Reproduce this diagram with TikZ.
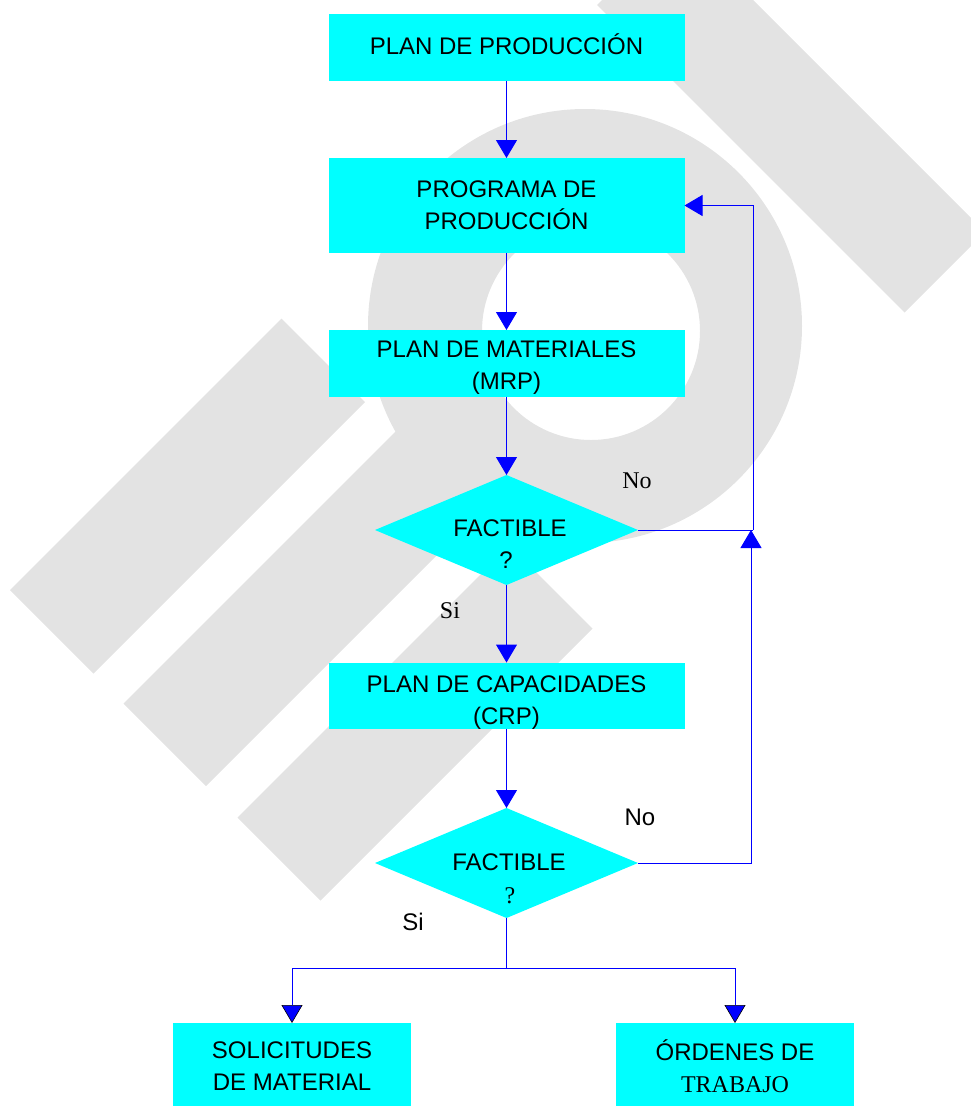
\documentclass[tikz,border=0pt]{standalone}
\usepackage{fontspec}
\setmainfont{Liberation Sans}
\newfontfamily\serifA{Liberation Serif}
\usetikzlibrary{arrows.meta,shapes.geometric}
\definecolor{wm}{RGB}{227,227,227}
\definecolor{boxcyan}{RGB}{0,255,255}
\definecolor{lnblue}{RGB}{0,0,255}
\tikzset{
  wmark/.style={fill=wm},
  box/.style={rectangle, fill=boxcyan, inner sep=0pt, outer sep=0pt, align=center, text=black, font=\fontsize{24}{32}\selectfont},
  dia/.style={diamond, fill=boxcyan, inner sep=0pt, outer sep=0pt, minimum width=263pt, minimum height=110pt},
  txt/.style={inner sep=0pt, outer sep=0pt, anchor=base, text=black, font=\fontsize{24}{32}\selectfont},
  sertxt/.style={txt, font=\serifA\fontsize{24}{32}\selectfont},
  conn/.style={draw=lnblue, line width=1pt},
  arr/.style={conn, -{Triangle[length=18pt,width=21pt]}},
  arrb/.style={conn, -{Triangle[length=18pt,width=21pt,color=black,fill=lnblue,line width=0.6pt]}},
}
\begin{document}
\begin{tikzpicture}[x=1pt,y=-1pt]
\useasboundingbox (0,0) rectangle (971,1106);
% watermark
\begin{scope}
\clip (0,0) rectangle (971,1106);
\fill[wmark, even odd rule] (585,326) circle[radius=217pt] (591,331) circle[radius=109pt];
\fill[wmark] (10,590) -- (93.5,673.5) -- (365,402) -- (281.5,318.5) -- cycle;
\fill[wmark] (123.5,703.5) -- (206,786) -- (520,472) -- (437.5,389.5) -- cycle;
\fill[wmark] (237.5,817.5) -- (320.5,900.5) -- (592.5,628.5) -- (509.5,545.5) -- cycle;
\fill[wmark] (597,5) -- (677.5,-75.5) -- (985,232) -- (904.5,312.5) -- cycle;
\end{scope}
% nodes
\node[box, minimum width=356pt, minimum height=67pt] (b1) at (506.5,47.5) {PLAN DE PRODUCCIÓN\rule[-6pt]{0pt}{6pt}};
\node[box, minimum width=356pt, minimum height=95pt] (b2) at (506.5,205.5) {PROGRAMA DE\\PRODUCCIÓN};
\node[box, minimum width=356pt, minimum height=67pt] (b3) at (506.5,363.5) {\rule{0pt}{25pt}PLAN DE MATERIALES\\(MRP)};
\node[dia] (d1) at (506.5,530) {};
\node[box, minimum width=356pt, minimum height=66pt] (b4) at (506.5,696) {\rule{0pt}{30pt}PLAN DE CAPACIDADES\\(CRP)};
\node[dia] (d2) at (506.5,863) {};
\node[box, minimum width=238pt, minimum height=87pt] (b5) at (292,1066.5) {SOLICITUDES\\DE MATERIAL};
\node[box, minimum width=238pt, minimum height=87pt] (b6) at (735,1066.5) {ÓRDENES DE\\{\serifA TRABAJO}};
% texts in diamonds and labels
\node[txt] (f1) at (510,536.5) {FACTIBLE};
\node[txt] (q1) at (506,568.5) {?};
\node[txt] (f2) at (509,870.5) {FACTIBLE};
\node[sertxt] (q2) at (510,903) {?};
\node[sertxt] (no1) at (637,488) {No};
\node[sertxt] (si1) at (450,618) {Si};
\node[txt] (no2) at (640,825.5) {No};
\node[txt] (si2) at (413,930) {Si};
% connectors
\draw[arr] (b1.south) -- (b2.north);
\draw[arr] (b2.south) -- (b3.north);
\draw[arr] (b3.south) -- (d1.north);
\draw[arr] (d1.south) -- (b4.north);
\draw[arr] (b4.south) -- (d2.north);
\coordinate (j) at (506.5,968);
\draw[conn] (d2.south) -- (j);
\draw[arrb] (j) -| (b5.north);
\draw[arrb] (j) -| (b6.north);
\coordinate (c1) at (753,530);
\draw[conn] (d1.east) -- (c1);
\draw[arr] (c1) |- (b2.east);
\coordinate (c2) at (751,530);
\draw[arr] (d2.east) -| (c2);
\end{tikzpicture}
\end{document}
